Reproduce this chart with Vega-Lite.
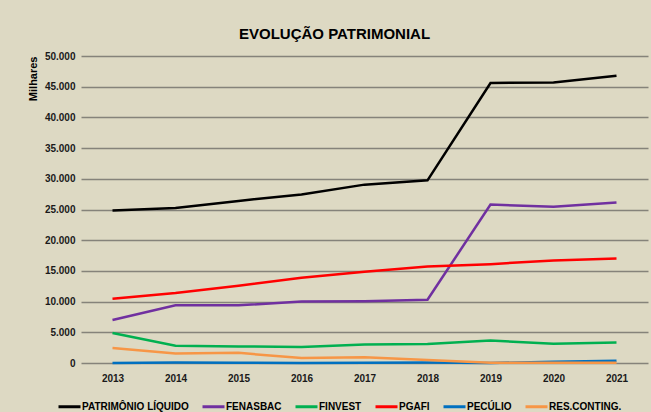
{
  "$schema": "https://vega.github.io/schema/vega-lite/v6.json",
  "width": 567,
  "height": 307,
  "autosize": {"type": "none"},
  "padding": {"left": 81, "top": 56, "right": 3, "bottom": 49},
  "background": "#DDD9C3",
  "title": {
    "text": "EVOLUÇÃO PATRIMONIAL",
    "font": "Liberation Sans",
    "fontSize": 15,
    "fontWeight": "bold",
    "color": "#000000",
    "anchor": "middle",
    "frame": "group",
    "dx": -30,
    "baseline": "alphabetic",
    "offset": -3
  },
  "config": {
    "view": {"stroke": null},
    "axis": {"labelFont": "Liberation Sans, sans-serif", "titleFont": "Liberation Sans, sans-serif"}
  },
  "data": {
    "values": [
      {"year": "2013", "series": "PATRIMÔNIO LÍQUIDO", "value": 24850},
      {"year": "2014", "series": "PATRIMÔNIO LÍQUIDO", "value": 25250},
      {"year": "2015", "series": "PATRIMÔNIO LÍQUIDO", "value": 26400},
      {"year": "2016", "series": "PATRIMÔNIO LÍQUIDO", "value": 27450},
      {"year": "2017", "series": "PATRIMÔNIO LÍQUIDO", "value": 29050},
      {"year": "2018", "series": "PATRIMÔNIO LÍQUIDO", "value": 29750},
      {"year": "2019", "series": "PATRIMÔNIO LÍQUIDO", "value": 45600},
      {"year": "2020", "series": "PATRIMÔNIO LÍQUIDO", "value": 45700},
      {"year": "2021", "series": "PATRIMÔNIO LÍQUIDO", "value": 46800},
      {"year": "2013", "series": "FENASBAC", "value": 7000},
      {"year": "2014", "series": "FENASBAC", "value": 9400},
      {"year": "2015", "series": "FENASBAC", "value": 9400},
      {"year": "2016", "series": "FENASBAC", "value": 10000},
      {"year": "2017", "series": "FENASBAC", "value": 10050},
      {"year": "2018", "series": "FENASBAC", "value": 10300},
      {"year": "2019", "series": "FENASBAC", "value": 25800},
      {"year": "2020", "series": "FENASBAC", "value": 25450},
      {"year": "2021", "series": "FENASBAC", "value": 26150},
      {"year": "2013", "series": "FINVEST", "value": 4900},
      {"year": "2014", "series": "FINVEST", "value": 2800},
      {"year": "2015", "series": "FINVEST", "value": 2700},
      {"year": "2016", "series": "FINVEST", "value": 2600},
      {"year": "2017", "series": "FINVEST", "value": 3000},
      {"year": "2018", "series": "FINVEST", "value": 3100},
      {"year": "2019", "series": "FINVEST", "value": 3650},
      {"year": "2020", "series": "FINVEST", "value": 3150},
      {"year": "2021", "series": "FINVEST", "value": 3350},
      {"year": "2013", "series": "PGAFI", "value": 10450},
      {"year": "2014", "series": "PGAFI", "value": 11400},
      {"year": "2015", "series": "PGAFI", "value": 12600},
      {"year": "2016", "series": "PGAFI", "value": 13900},
      {"year": "2017", "series": "PGAFI", "value": 14850},
      {"year": "2018", "series": "PGAFI", "value": 15700},
      {"year": "2019", "series": "PGAFI", "value": 16100},
      {"year": "2020", "series": "PGAFI", "value": 16700},
      {"year": "2021", "series": "PGAFI", "value": 17000},
      {"year": "2013", "series": "PECÚLIO", "value": 0},
      {"year": "2014", "series": "PECÚLIO", "value": 100},
      {"year": "2015", "series": "PECÚLIO", "value": 50},
      {"year": "2016", "series": "PECÚLIO", "value": 0},
      {"year": "2017", "series": "PECÚLIO", "value": 50},
      {"year": "2018", "series": "PECÚLIO", "value": 100},
      {"year": "2019", "series": "PECÚLIO", "value": 0},
      {"year": "2020", "series": "PECÚLIO", "value": 200},
      {"year": "2021", "series": "PECÚLIO", "value": 350},
      {"year": "2013", "series": "RES.CONTING.", "value": 2450},
      {"year": "2014", "series": "RES.CONTING.", "value": 1550},
      {"year": "2015", "series": "RES.CONTING.", "value": 1650},
      {"year": "2016", "series": "RES.CONTING.", "value": 800},
      {"year": "2017", "series": "RES.CONTING.", "value": 950},
      {"year": "2018", "series": "RES.CONTING.", "value": 500},
      {"year": "2019", "series": "RES.CONTING.", "value": 50},
      {"year": "2020", "series": "RES.CONTING.", "value": 50},
      {"year": "2021", "series": "RES.CONTING.", "value": 50}
    ]
  },
  "mark": {"type": "line", "strokeWidth": 2.5},
  "encoding": {
    "x": {
      "field": "year",
      "type": "ordinal",
      "scale": {"type": "point", "padding": 0.5},
      "axis": {
        "title": null,
        "labelAngle": 0,
        "ticks": false,
        "tickSize": 0,
        "domain": false,
        "grid": false,
        "labelFontSize": 10,
        "labelFontWeight": "bold",
        "labelColor": "#1a1a1a",
        "labelPadding": 10
      }
    },
    "y": {
      "field": "value",
      "type": "quantitative",
      "scale": {"domain": [0, 50000], "nice": false},
      "axis": {
        "values": [0, 5000, 10000, 15000, 20000, 25000, 30000, 35000, 40000, 45000, 50000],
        "labelExpr": "replace(format(datum.value, ','), ',', '.')",
        "grid": true,
        "gridColor": "#85837a",
        "gridWidth": 1.5,
        "domain": false,
        "ticks": false,
        "tickSize": 0,
        "labelPadding": 6,
        "labelFontSize": 10,
        "labelFontWeight": "bold",
        "labelColor": "#1a1a1a",
        "title": "Milhares",
        "titleAnchor": "end",
        "titleFontSize": 11,
        "titleFontWeight": "bold",
        "titleColor": "#000000",
        "titlePadding": 6
      }
    },
    "color": {
      "field": "series",
      "type": "nominal",
      "scale": {
        "domain": ["PATRIMÔNIO LÍQUIDO", "FENASBAC", "FINVEST", "PGAFI", "PECÚLIO", "RES.CONTING."],
        "range": ["#000000", "#7030A0", "#00B050", "#FF0000", "#0070C0", "#F79646"]
      },
      "legend": {
        "orient": "none",
        "legendX": -24,
        "legendY": 338,
        "direction": "horizontal",
        "title": null,
        "symbolType": "stroke",
        "symbolStrokeWidth": 3,
        "symbolSize": 484,
        "labelFont": "Liberation Sans, sans-serif",
        "labelFontSize": 10,
        "labelFontWeight": "bold",
        "labelColor": "#000000",
        "labelOffset": 0,
        "columnPadding": 7
      }
    }
  }
}
